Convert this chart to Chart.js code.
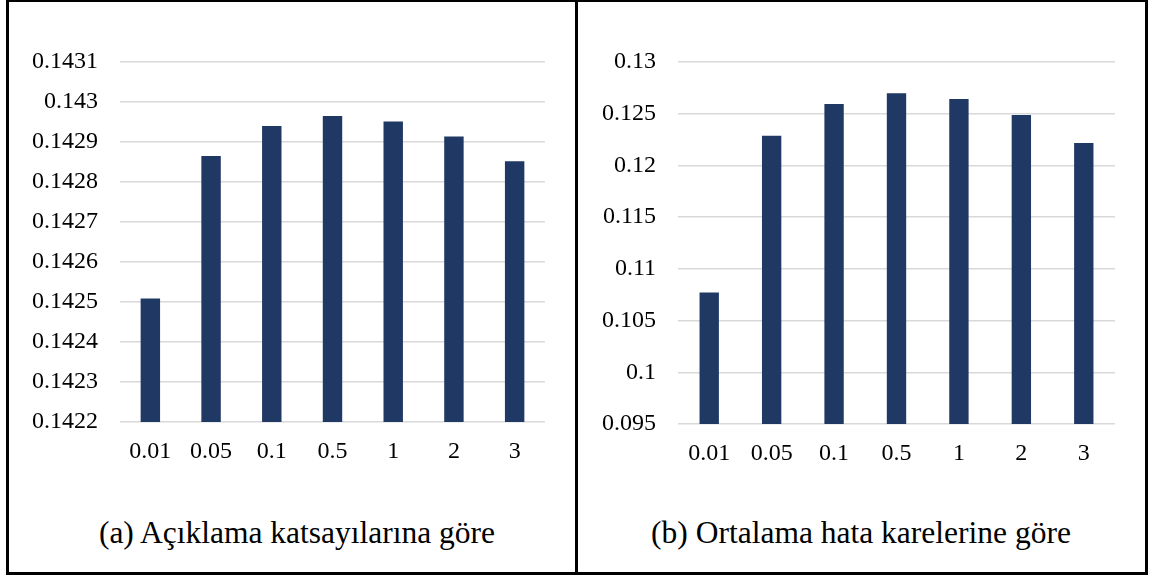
<!DOCTYPE html>
<html>
<head>
<meta charset="utf-8">
<script src="https://cdn.jsdelivr.net/npm/chart.js@4/dist/chart.umd.min.js"></script>
<style>
  html, body { margin: 0; padding: 0; background: #fff; }
  body { width: 1155px; height: 579px; position: relative; overflow: hidden; }
  .panel { position: absolute; top: -1px; height: 576px; border: 3px solid #000; box-sizing: border-box; }
  #panelA { left: 6px; width: 572px; }
  #panelB { left: 575px; width: 573px; }
  canvas { position: absolute; top: 2px; }
  #chartA { left: 9px; }
  #chartB { left: 578px; }
  .caption { position: absolute; top: 515px; font-family: "Liberation Serif", "Times New Roman", serif; font-size: 31.5px; color: #000; text-align: center; white-space: nowrap; }
  #capA { left: 9px; width: 576px; }
  #capB { left: 578px; width: 566px; }
</style>
</head>
<body>
<div class="panel" id="panelA"></div>
<div class="panel" id="panelB"></div>
<canvas id="chartA" width="566" height="478"></canvas>
<canvas id="chartB" width="566" height="478"></canvas>
<div class="caption" id="capA">(a) Açıklama katsayılarına göre</div>
<div class="caption" id="capB">(b) Ortalama hata karelerine göre</div>
<script>
// Coefficient values on the x axis
const categories = ['0.01', '0.05', '0.1', '0.5', '1', '2', '3'];

// (a) coefficient of determination per value
const r2Values = [0.142509, 0.142865, 0.14294, 0.142965, 0.142951, 0.142914, 0.142852];
// (b) mean squared error per value
const mseValues = [0.10772, 0.12286, 0.12595, 0.12698, 0.12643, 0.12488, 0.12218];

// Tick values for the two value axes
const r2Ticks = [0.1422, 0.1423, 0.1424, 0.1425, 0.1426, 0.1427, 0.1428, 0.1429, 0.143, 0.1431];
const mseTicks = [0.095, 0.1, 0.105, 0.11, 0.115, 0.12, 0.125, 0.13];

const BAR_COLOR = '#203864';
const GRID_COLOR = '#d9d9d9';
const FONT = { family: '"Liberation Serif", "Times New Roman", serif', size: 24 };

function makeChart(canvasId, values, ticks, decimals, axisWidth, axisHeight, padRight, barPct) {
  return new Chart(document.getElementById(canvasId), {
    type: 'bar',
    data: {
      labels: categories,
      datasets: [{
        data: values,
        backgroundColor: BAR_COLOR,
        borderWidth: 0,
        barPercentage: barPct,
        categoryPercentage: 1
      }]
    },
    options: {
      responsive: false,
      animation: false,
      devicePixelRatio: 1,
      layout: { padding: { top: 60, right: padRight, bottom: 0, left: 0 } },
      plugins: { legend: { display: false }, tooltip: { enabled: false } },
      scales: {
        x: {
          grid: { display: false, drawTicks: false },
          border: { display: false },
          ticks: { color: '#000', font: FONT, padding: 15, maxRotation: 0 },
          afterFit: (s) => { s.height = axisHeight; }
        },
        y: {
          min: ticks[0],
          max: ticks[ticks.length - 1],
          grid: { color: GRID_COLOR, lineWidth: 1.5, drawTicks: false },
          border: { display: false },
          ticks: {
            color: '#000',
            font: FONT,
            padding: 22,
            callback: (v) => String(Number(Number(v).toFixed(decimals)))
          },
          afterBuildTicks: (s) => { s.ticks = ticks.map(v => ({ value: v })); },
          afterFit: (s) => { s.width = axisWidth; }
        }
      }
    }
  });
}

makeChart('chartA', r2Values, r2Ticks, 4, 111, 58, 30, 0.32);
makeChart('chartB', mseValues, mseTicks, 3, 100, 56, 29, 0.31);
</script>
</body>
</html>
